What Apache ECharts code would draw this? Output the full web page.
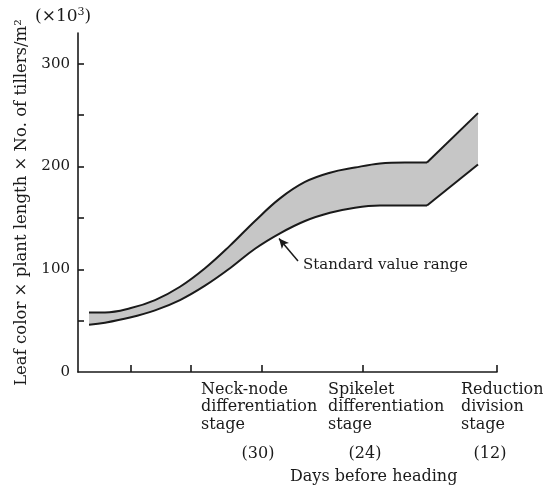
<!DOCTYPE html>
<html>
<head>
<meta charset="utf-8">
<script src="https://cdn.jsdelivr.net/npm/echarts@6/dist/echarts.min.js"></script>
<style>
  html, body { margin: 0; padding: 0; background: #fff; }
  #main { width: 543px; height: 489px; }
</style>
</head>
<body>
<div id="main"></div>
<script>
// x is a position along the (non-linear) growth-stage axis
var xPos = [11, 27, 52, 77, 102, 127, 152, 177, 202, 227, 252, 277, 302, 327, 349, 400];
var upper = [58, 58, 62, 70, 83, 101, 123, 147, 169, 185, 194, 199, 203, 204, 204, 252];
var lower = [46, 48, 53, 60, 70, 84, 101, 120, 135, 147, 155, 160, 162, 162, 162, 202];
// the band runs curved up to this point, then straight to the end
var kink = 14;

var xTicks = [53, 113, 184, 285, 419];
var dayPos = [180, 287, 412];
var dayLabels = ['(30)', '(24)', '(12)'];
var yTicks = [50, 100, 150, 200, 250, 300];
var yLabels = [0, 100, 200, 300];

var stages = [
  { x: 201, text: 'Neck-node\ndifferentiation\nstage' },
  { x: 328, text: 'Spikelet\ndifferentiation\nstage' },
  { x: 461, text: 'Reduction\ndivision\nstage' }
];

var font = 'DejaVu Serif';
var ink = '#1a1a1a';

function pairs(vals, from, to) {
    var out = [];
    for (var i = from; i <= to; i++) out.push([xPos[i], vals[i]]);
    return out;
}
var last = xPos.length - 1;

function edge(name, data, smooth, fill, z) {
    return {
        name: name,
        type: 'line',
        data: data,
        smooth: smooth,
        symbol: 'none',
        z: z,
        lineStyle: { color: ink, width: 2 },
        areaStyle: { color: fill, opacity: 1 }
    };
}

var lowerCurve = edge('lower', pairs(lower, 0, kink), 0.4, '#ffffff', 4);
lowerCurve.markLine = {
    silent: true,
    symbol: ['none', 'arrow'],
    symbolSize: [7, 10],
    lineStyle: { color: ink, width: 1.5, type: 'solid' },
    label: { show: false },
    data: [[{ coord: [220, 108] }, { coord: [201, 130] }]]
};

var myChart = echarts.init(document.getElementById('main'));

var option = {
    animation: false,
    grid: { left: 78, right: 46, top: 33, bottom: 117 },
    xAxis: {
        type: 'value',
        min: 0,
        max: 419,
        z: 10,
        axisLine: { lineStyle: { color: ink, width: 1.6 } },
        axisTick: { customValues: xTicks, inside: true, length: 7, lineStyle: { color: ink, width: 1.6 } },
        axisLabel: {
            customValues: dayPos,
            margin: 74,
            fontFamily: font,
            fontSize: 16,
            color: ink,
            formatter: function (v) { return dayLabels[dayPos.indexOf(v)]; }
        },
        splitLine: { show: false }
    },
    yAxis: {
        type: 'value',
        min: 0,
        max: 330,
        z: 10,
        name: 'Leaf color × plant length × No. of tillers/m²',
        nameLocation: 'middle',
        nameGap: 48,
        nameTextStyle: { fontFamily: font, fontSize: 16.5, color: ink },
        axisLine: { lineStyle: { color: ink, width: 1.6 } },
        axisTick: { customValues: yTicks, inside: true, length: 6, lineStyle: { color: ink, width: 1.6 } },
        axisLabel: { customValues: yLabels, margin: 8, fontFamily: font, fontSize: 15, color: ink },
        splitLine: { show: false }
    },
    series: [
        edge('Standard value range', pairs(upper, 0, kink), 0.4, '#c6c6c6', 2),
        edge('upper end', pairs(upper, kink, last), false, '#c6c6c6', 2),
        lowerCurve,
        edge('lower end', pairs(lower, kink, last), false, '#ffffff', 4)
    ],
    graphic: [
        {
            type: 'text',
            z: 100,
            left: 35,
            top: 7,
            style: {
                text: '(×10{s|3})',
                rich: { s: { fontSize: 11, verticalAlign: 'top', padding: [0, 0, 9, 0], fontFamily: font, fill: ink } },
                fontFamily: font,
                fontSize: 17,
                fill: ink
            }
        },
        {
            type: 'text',
            z: 100,
            left: 303,
            top: 258,
            style: { text: 'Standard value range', fontFamily: font, fontSize: 15, fill: ink }
        },
        {
            type: 'text',
            z: 100,
            left: 290,
            top: 469,
            style: { text: 'Days before heading', fontFamily: font, fontSize: 16, fill: ink }
        }
    ].concat(stages.map(function (s) {
        return {
            type: 'text',
            z: 100,
            left: s.x,
            top: 381,
            style: { text: s.text, fontFamily: font, fontSize: 16, lineHeight: 17.5, fill: ink }
        };
    }))
};

myChart.setOption(option);
</script>
</body>
</html>
